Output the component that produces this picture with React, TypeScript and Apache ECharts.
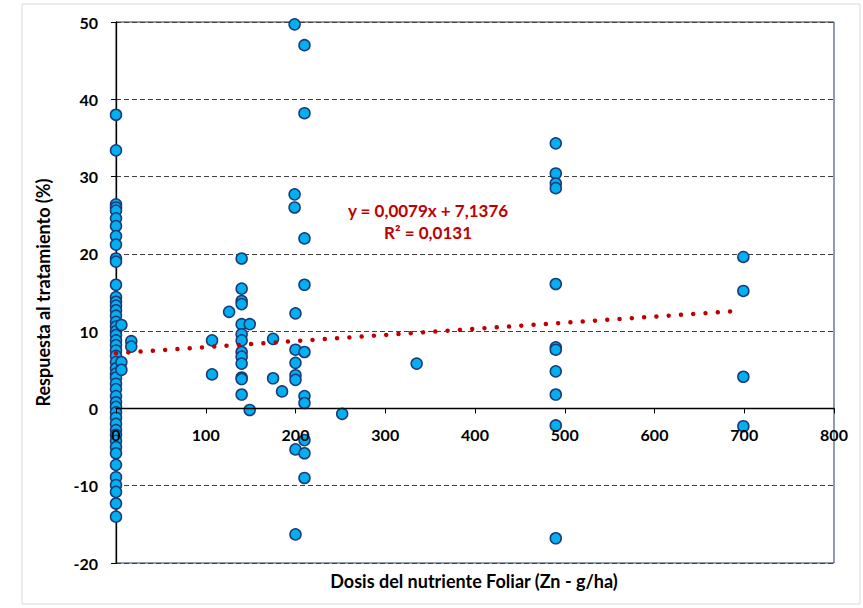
import React, { useEffect, useRef } from "react";
import * as echarts from "echarts";

// Dose (g/ha) of each observation
const doses: number[] = [
  0, 0, 0, 0, 0, 0, 0, 0, 0, 0, 0, 0, 0, 0, 0, 0, 0, 0, 0, 0, 0, 0, 0, 0,
  0, 0, 0, 0, 0, 0, 0, 0, 0, 0, 0, 0, 0, 0, 0, 0, 0, 0, 0, 0, 0, 0, 0, 0,
  6, 6, 6, 17, 17,
  107, 107, 126,
  140, 140, 140, 140, 140, 140, 140, 140, 140, 140, 140, 140, 140,
  149, 149, 175, 175, 185,
  199, 199, 199,
  200, 200, 200, 200, 200, 200, 200,
  210, 210, 210, 210, 210, 210, 210, 210, 210, 210,
  252, 335,
  490, 490, 490, 490, 490, 490, 490, 490, 490, 490, 490,
  699, 699, 699, 699,
];

// Response to treatment (%) of each observation
const responses: number[] = [
  38.0, 33.4, 26.4, 26.0, 25.6, 24.6, 23.6, 22.3, 21.2, 19.4, 19.0, 16.0,
  14.4, 13.8, 13.3, 12.7, 12.0, 11.2, 10.6, 10.0, 9.5, 8.8, 8.2, 7.5,
  6.8, 6.0, 5.2, 4.5, 4.0, 3.2, 2.5, 1.6, 0.8, 0.2, -0.5, -1.2,
  -2.0, -2.8, -3.4, -4.2, -5.0, -5.8, -7.3, -8.9, -9.9, -10.8, -12.3, -14.0,
  10.8, 6.0, 5.0, 8.7, 8.0,
  8.8, 4.4, 12.5,
  19.4, 15.5, 13.9, 13.5, 10.9, 9.6, 8.8, 7.3, 6.7, 5.8, 4.0, 3.8, 1.8,
  10.9, -0.2, 9.0, 3.9, 2.2,
  49.7, 27.7, 26.0,
  12.3, 7.6, 5.9, 4.3, 3.7, -5.3, -16.3,
  47.0, 38.2, 22.0, 16.0, 7.3, 1.6, 0.7, -4.1, -5.8, -9.0,
  -0.7, 5.8,
  34.3, 30.4, 29.1, 28.5, 16.1, 7.9, 7.6, 4.8, 1.8, -2.2, -16.8,
  19.6, 15.2, 4.1, -2.3,
];

// Linear trendline: slope, intercept, and x range it spans
const trendCoef: number[] = [0.0079, 7.1376];
const trendRange: number[] = [0, 695];
const trendLabels: string[] = ["y = 0,0079x + 7,1376", "R² = 0,0131"];

// [min, max, interval]
const xTicks: number[] = [0, 800, 100];
const yTicks: number[] = [-20, 50, 10];

const FONT = "Lato, 'Open Sans', sans-serif";

const W = 863;
const H = 608;
const GRID = { left: 116, right: 29, top: 22, bottom: 45 };

export default function App() {
  const ref = useRef<HTMLDivElement>(null);
  useEffect(() => {
    if (!ref.current) return;
    const chart = echarts.init(ref.current, null, { renderer: "svg" });
    const points = doses.map((d, i) => [d, responses[i]]);
    const trend = trendRange.map((x) => [x, trendCoef[0] * x + trendCoef[1]]);
    const gridH = H - GRID.top - GRID.bottom;
    // move the x axis up to the y = 0 level
    const xOffset = -gridH * (0 - yTicks[0]) / (yTicks[1] - yTicks[0]);
    chart.setOption({
      animation: false,
      backgroundColor: "#ffffff",
      grid: {
        ...GRID,
        show: true,
        borderColor: "#1f3864",
        borderWidth: 1,
        backgroundColor: "transparent",
      },
      xAxis: {
        type: "value",
        min: xTicks[0],
        max: xTicks[1],
        interval: xTicks[2],
        position: "bottom",
        offset: xOffset,
        z: 5,
        axisLine: { show: true, onZero: false, lineStyle: { color: "#000", width: 1.3 } },
        axisTick: { show: true, inside: false, length: 5, lineStyle: { color: "#000" } },
        axisLabel: {
          margin: 18,
          showMinLabel: true,
          showMaxLabel: true,
          fontFamily: FONT,
          fontWeight: "bold",
          fontSize: 16,
          color: "#000",
        },
        splitLine: { show: false },
      },
      yAxis: {
        type: "value",
        min: yTicks[0],
        max: yTicks[1],
        interval: yTicks[2],
        name: "Respuesta al tratamiento (%)",
        nameLocation: "middle",
        nameGap: 64,
        nameTextStyle: {
          fontFamily: FONT,
          fontWeight: "bold",
          fontSize: 18,
          color: "#000",
        },
        axisLine: { show: true, onZero: false, lineStyle: { color: "#000", width: 1.3 } },
        axisTick: { show: true, length: 5, lineStyle: { color: "#000" } },
        axisLabel: {
          margin: 18,
          fontFamily: FONT,
          fontWeight: "bold",
          fontSize: 16,
          color: "#000",
        },
        splitLine: {
          show: true,
          lineStyle: { color: "#404040", type: [5, 3], width: 1 },
        },
      },
      graphic: [
        {
          type: "rect",
          shape: { x: 22, y: 4, width: 838, height: 600 },
          style: { fill: "none", stroke: "#d9d9d9", lineWidth: 1 },
          z: -1,
          silent: true,
        },
        {
          type: "text",
          x: 474,
          y: 581,
          style: {
            text: "Dosis del nutriente Foliar (Zn - g/ha)",
            fontFamily: FONT,
            fontWeight: "bold",
            fontSize: 18,
            fill: "#000",
            align: "center",
            verticalAlign: "middle",
          },
        },
        {
          type: "text",
          x: 428,
          y: 210,
          z: 10,
          style: {
            text: trendLabels[0],
            fontFamily: FONT,
            fontWeight: "bold",
            fontSize: 17,
            fill: "#c00000",
            align: "center",
            verticalAlign: "middle",
          },
        },
        {
          type: "text",
          x: 428,
          y: 232,
          z: 10,
          style: {
            text: trendLabels[1],
            fontFamily: FONT,
            fontWeight: "bold",
            fontSize: 17,
            fill: "#c00000",
            align: "center",
            verticalAlign: "middle",
          },
        },
      ],
      series: [
        {
          type: "scatter",
          data: points,
          symbol: "circle",
          symbolSize: 11,
          itemStyle: { color: "#00b0f0", borderColor: "#1a3a78", borderWidth: 1.5, opacity: 1 },
          z: 2,
        },
        {
          type: "line",
          data: trend,
          showSymbol: false,
          symbol: "none",
          lineStyle: { color: "#c00000", width: 4.5, type: [0.01, 12.3], cap: "round" },
          z: 3,
        },
      ],
    });
    return () => chart.dispose();
  }, []);
  return (
    <div
      ref={ref}
      style={{ position: "absolute", left: 0, top: 0, width: W, height: H }}
    />
  );
}
